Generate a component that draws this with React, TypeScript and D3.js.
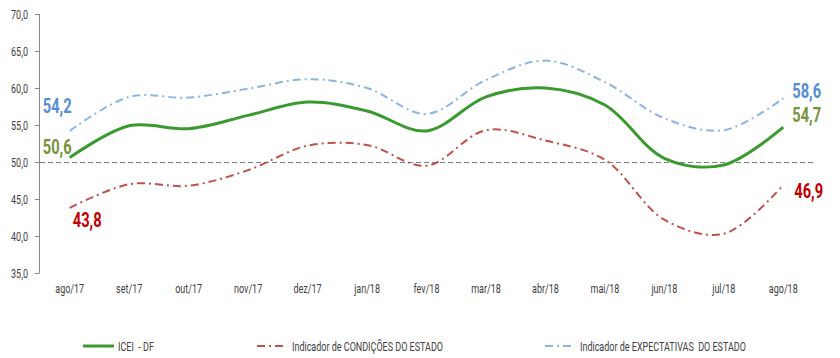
import React from "react";
import * as d3 from "d3";

const categories = ["ago/17","set/17","out/17","nov/17","dez/17","jan/18","fev/18","mar/18","abr/18","mai/18","jun/18","jul/18","ago/18"];
const icei = [50.6, 54.9, 54.5, 56.3, 58.1, 56.9, 54.2, 58.8, 60.0, 57.7, 50.5, 49.6, 54.7];
const condicoes = [43.8, 47.0, 46.8, 48.9, 52.2, 52.3, 49.5, 54.3, 52.9, 50.3, 42.2, 40.3, 46.9];
const expectativas = [54.2, 58.8, 58.7, 59.9, 61.2, 60.0, 56.5, 61.1, 63.7, 60.8, 55.9, 54.3, 58.6];
const yTicks = [35, 40, 45, 50, 55, 60, 65, 70];

const W = 840, H = 358;
const FONT = "Roboto, 'DejaVu Sans', sans-serif";
const fmt = (v: number) => v.toFixed(1).replace(".", ",");

type TProps = {
  x: number; y: number; sx?: number; size?: number; weight?: string | number;
  fill?: string; anchor?: "start" | "middle" | "end"; children: React.ReactNode;
};
function T({ x, y, sx = 0.72, size = 12.5, weight = "normal", fill = "#404040", anchor = "start", children }: TProps) {
  return (
    <text transform={`translate(${x},${y}) scale(${sx},1)`} textAnchor={anchor}
      fontSize={size} fontWeight={weight} fill={fill} style={{ whiteSpace: "pre" }}>
      {children}
    </text>
  );
}

export default function App() {
  const x = d3.scaleBand<string>().domain(categories).range([40, 813]);
  const cx = (c: string) => (x(c) as number) + x.bandwidth() / 2;
  const y = d3.scaleLinear().domain([35, 70]).range([273, 14]);
  const line = d3.line<number>()
    .x((_, i) => cx(categories[i]))
    .y((d) => y(d))
    .curve(d3.curveCatmullRom.alpha(0.5));

  const n = categories.length - 1;
  const lastX = cx(categories[n]);
  const firstX = cx(categories[0]);
  const LBL = { size: 21, weight: "bold", sx: 0.7 };

  return (
    <div style={{ position: "absolute", left: 0, top: 0 }}>
      <svg width={W} height={H} style={{ display: "block", fontFamily: FONT }}>
        <rect width={W} height={H} fill="#fff" />
        {/* y axis */}
        <line x1={39.5} x2={39.5} y1={y(70)} y2={y(35)} stroke="#888" strokeWidth={1} />
        {yTicks.map((t) => (
          <g key={t}>
            <line x1={35} x2={39.5} y1={y(t) + 0.5} y2={y(t) + 0.5} stroke="#888" />
            <T x={28} y={y(t) + 4.5} anchor="end">{fmt(t)}</T>
          </g>
        ))}
        {/* reference line at 50 */}
        <line x1={40} x2={813} y1={y(50) + 0.5} y2={y(50) + 0.5} stroke="#7f7f7f" strokeWidth={1} strokeDasharray="5,3" />
        {/* x labels */}
        {categories.map((c) => (
          <T key={c} x={cx(c)} y={293} anchor="middle">{c}</T>
        ))}
        {/* series */}
        <path d={line(expectativas) || ""} fill="none" stroke="#8db4e2" strokeWidth={2} strokeDasharray="8,4,2,4" />
        <path d={line(condicoes) || ""} fill="none" stroke="#c0504d" strokeWidth={2} strokeDasharray="8,4,2,4" />
        <path d={line(icei) || ""} fill="none" stroke="#3a9a2f" strokeWidth={3} />
        {/* data labels */}
        <T x={firstX - 27} y={y(expectativas[0]) - 18} {...LBL} fill="#558ed5">{fmt(expectativas[0])}</T>
        <T x={firstX - 27} y={y(icei[0]) - 3.6} {...LBL} fill="#77933c">{fmt(icei[0])}</T>
        <T x={firstX + 3} y={y(condicoes[0]) + 19} {...LBL} fill="#c00000">{fmt(condicoes[0])}</T>
        <T x={lastX + 9} y={y(expectativas[n])} {...LBL} fill="#558ed5">{fmt(expectativas[n])}</T>
        <T x={lastX + 9} y={y(icei[n]) - 5} {...LBL} fill="#77933c">{fmt(icei[n])}</T>
        <T x={lastX + 11} y={y(condicoes[n]) + 13} {...LBL} fill="#c00000">{fmt(condicoes[n])}</T>
        {/* legend */}
        <line x1={83} x2={114} y1={346} y2={346} stroke="#3a9a2f" strokeWidth={3} />
        <T x={118} y={350.5}>ICEI  - DF</T>
        <line x1={257} x2={286} y1={346} y2={346} stroke="#c0504d" strokeWidth={2} strokeDasharray="8,4,2,4" />
        <T x={292} y={350.5}>Indicador de CONDIÇÕES DO ESTADO</T>
        <line x1={545} x2={574} y1={346} y2={346} stroke="#8db4e2" strokeWidth={2} strokeDasharray="8,4,2,4" />
        <T x={580} y={350.5}>Indicador de EXPECTATIVAS  DO ESTADO</T>
      </svg>
    </div>
  );
}
